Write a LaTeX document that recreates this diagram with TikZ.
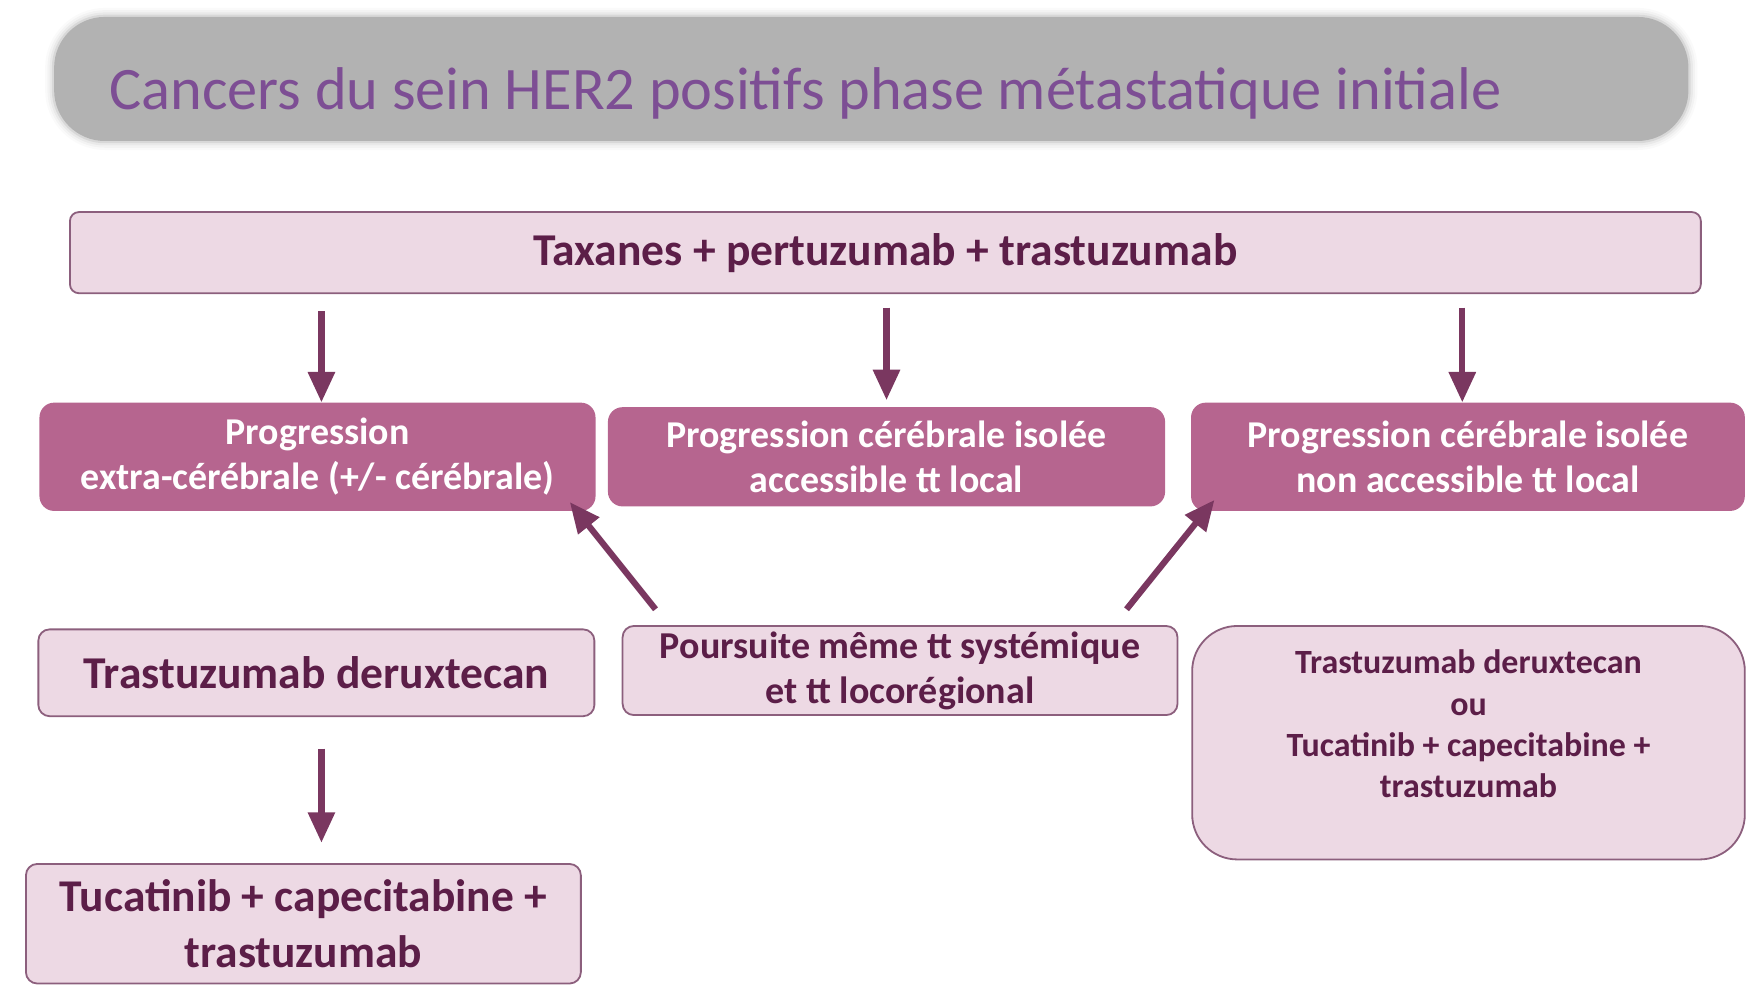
\documentclass[tikz,border=0pt]{standalone}
\usepackage{fontspec}
\setmainfont{Carlito}
\usetikzlibrary{arrows.meta}
\definecolor{titlegray}{RGB}{178,178,178}
\definecolor{titletext}{RGB}{125,78,148}
\definecolor{lightbox}{RGB}{237,217,228}
\definecolor{boxborder}{RGB}{140,95,125}
\definecolor{darktext}{RGB}{92,30,72}
\definecolor{progfill}{RGB}{182,101,143}
\definecolor{arrowcol}{RGB}{122,55,96}
\begin{document}
\begin{tikzpicture}[x=1pt,y=-1pt,
  lbox/.style={draw=boxborder, line width=1.6pt, fill=lightbox, rounded corners=10pt,
    text=darktext, align=center, inner sep=0pt},
  pbox/.style={fill=progfill, rounded corners=13pt, text=white, align=center, inner sep=0pt,
    font=\bfseries\fontsize{33.6}{40}\selectfont},
  arr/.style={draw=arrowcol, line width=5.5pt, -{Triangle[width=23pt,length=27pt]}}
]
\useasboundingbox (0,0) rectangle (1564,883);
% title box with soft edge
\foreach \w/\o in {16/0.06, 12/0.10, 8/0.16, 4/0.3}
  \draw[titlegray, line width=\w pt, opacity=\o, rounded corners=45pt] (48,15) rectangle (1497,125);
\node[fill=titlegray, rounded corners=45pt, minimum width=1449pt, minimum height=110pt, inner sep=0pt] (title) at (772.5,70) {};
\node[anchor=base west, text=titletext, font=\fontsize{53.5}{60}\selectfont, inner sep=0pt] (titletxt) at (97,97) {Cancers du sein HER2 positifs phase métastatique initiale};

\node[lbox, rounded corners=8pt, minimum width=1446pt, minimum height=72pt, font=\bfseries\fontsize{40.4}{48}\selectfont] (tax) at (785,224) {Taxanes + pertuzumab + trastuzumab};

\node[pbox, minimum width=493pt, minimum height=96pt] (progA) at (281.5,405) {Progression\\extra-cérébrale (+/- cérébrale)};
\node[pbox, minimum width=494pt, minimum height=88pt] (progB) at (786,405) {Progression cérébrale isolée\\accessible tt local};
\node[pbox, minimum width=491pt, minimum height=96pt] (progC) at (1301.5,405) {Progression cérébrale isolée\\non accessible tt local};

\node[lbox, minimum width=493pt, minimum height=77pt, font=\bfseries\fontsize{40.4}{48}\selectfont] (tdx) at (280.5,596.5) {Trastuzumab deruxtecan};
\node[lbox, minimum width=492pt, minimum height=79pt, font=\bfseries\fontsize{33.7}{40}\selectfont] (pours) at (798,594.5) {Poursuite même tt systémique\\et tt locorégional};
\node[lbox, rounded corners=40pt, minimum width=490pt, minimum height=207pt] (right) at (1302,658.5) {};
\node[text=darktext, align=center, inner sep=0pt, font=\bfseries\fontsize{30.1}{36.7}\selectfont] (righttxt) at (1302,642) {Trastuzumab deruxtecan\\ou\\Tucatinib + capecitabine +\\trastuzumab};
\node[lbox, minimum width=492pt, minimum height=106pt, font=\bfseries\fontsize{40.3}{50}\selectfont] (tuc) at (269,819) {Tucatinib + capecitabine +\\trastuzumab};

% arrows
\draw[arr, shorten <=15pt] ([xshift=3.5pt]tax.south -| progA.north) -- ([xshift=3.5pt]progA.north);
\draw[arr, shorten <=12pt, shorten >=6pt] (tax.south -| progB.north) -- (progB.north);
\draw[arr, shorten <=12pt] ([xshift=-5pt]tax.south -| progC.north) -- ([xshift=-5pt]progC.north);
\coordinate (dA) at ([shift={(30,-14)}]pours.north west);
\coordinate (dC) at ([shift={(-46,-14)}]pours.north east);
\draw[arr] (dA) -- ([shift={(-23,-8)}]progA.south east);
\draw[arr] (dC) -- ([shift={(21,-10)}]progC.south west);
\draw[arr, shorten <=28pt, shorten >=18pt] ([xshift=4.5pt]tdx.south) -- ([xshift=4.5pt]tdx.south |- tuc.north);
\end{tikzpicture}
\end{document}
